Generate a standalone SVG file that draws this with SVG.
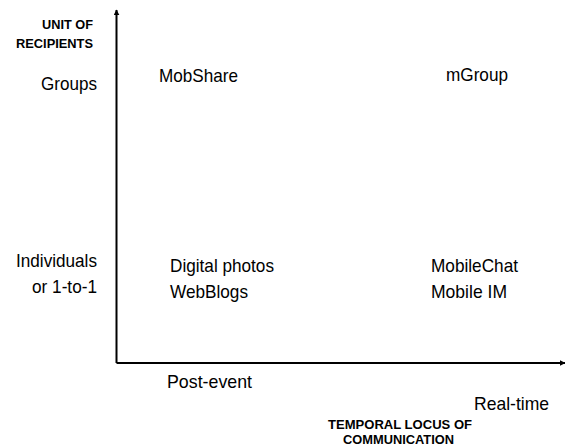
<svg xmlns="http://www.w3.org/2000/svg" width="565" height="447" viewBox="0 0 565 447">
<defs>
<style>
.t{font-family:"Liberation Sans",Arial,sans-serif;font-size:19px;fill:#000}
.b{font-family:"Liberation Sans",Arial,sans-serif;font-size:13px;font-weight:bold;fill:#000}
.ax{stroke:#000;stroke-width:2;fill:none}
</style>
<marker id="ah" viewBox="0 0 10 10" refX="9" refY="5" markerWidth="3" markerHeight="3" orient="auto" markerUnits="strokeWidth">
<path d="M0,0 L10,5 L0,10 z" fill="#000"/>
</marker>
</defs>
<g id="connectors">
<line class="ax" x1="116.5" y1="363" x2="116.5" y2="10" marker-end="url(#ah)"/>
<line class="ax" x1="116.5" y1="363" x2="565" y2="363" marker-end="url(#ah)"/>
</g>
<g id="y-axis-title">
<text class="b" x="42" y="29" textLength="51" lengthAdjust="spacingAndGlyphs">UNIT OF</text>
<text class="b" x="16" y="48" textLength="77" lengthAdjust="spacingAndGlyphs">RECIPIENTS</text>
</g>
<g id="label-groups"><text class="t" x="41" y="90" textLength="56" lengthAdjust="spacingAndGlyphs">Groups</text></g>
<g id="label-individuals">
<text class="t" x="16" y="267" textLength="81" lengthAdjust="spacingAndGlyphs">Individuals</text>
<text class="t" x="32" y="293" textLength="65" lengthAdjust="spacingAndGlyphs">or 1-to-1</text>
</g>
<g id="node-mobshare"><text class="t" x="159" y="81.5" textLength="79" lengthAdjust="spacingAndGlyphs">MobShare</text></g>
<g id="node-mgroup"><text class="t" x="446" y="81" textLength="62" lengthAdjust="spacingAndGlyphs">mGroup</text></g>
<g id="node-digital">
<text class="t" x="170" y="272" textLength="104" lengthAdjust="spacingAndGlyphs">Digital photos</text>
<text class="t" x="170" y="297.5" textLength="78" lengthAdjust="spacingAndGlyphs">WebBlogs</text>
</g>
<g id="node-mobile">
<text class="t" x="431" y="272" textLength="87" lengthAdjust="spacingAndGlyphs">MobileChat</text>
<text class="t" x="431" y="297.5" textLength="76" lengthAdjust="spacingAndGlyphs">Mobile IM</text>
</g>
<g id="label-postevent"><text class="t" x="167" y="388" textLength="85" lengthAdjust="spacingAndGlyphs">Post-event</text></g>
<g id="label-realtime"><text class="t" x="474" y="410" textLength="75" lengthAdjust="spacingAndGlyphs">Real-time</text></g>
<g id="x-axis-title">
<text class="b" x="328" y="429" textLength="144" lengthAdjust="spacingAndGlyphs">TEMPORAL LOCUS OF</text>
<text class="b" x="343" y="444" textLength="111" lengthAdjust="spacingAndGlyphs">COMMUNICATION</text>
</g>
</svg>
